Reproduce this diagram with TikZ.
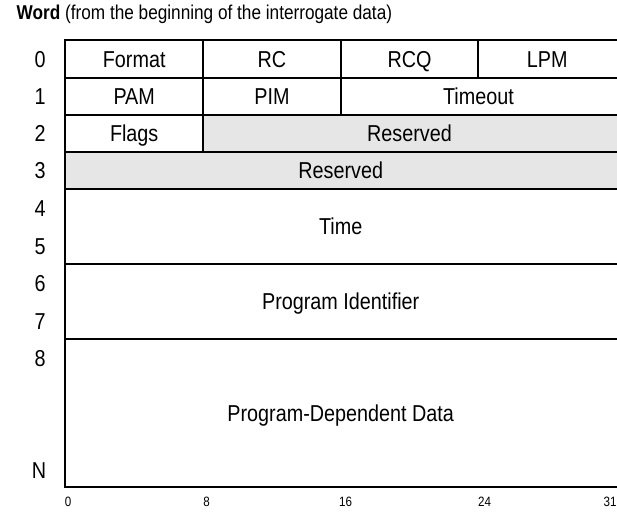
\documentclass[tikz,border=0pt]{standalone}
\usepackage{fontspec}
\setmainfont{Liberation Sans}[FakeStretch=0.86]
\definecolor{resgray}{HTML}{E6E6E6}
\begin{document}
\begin{tikzpicture}[x=1pt,y=-1pt,
  cell/.style={font=\fontsize{23}{27}\selectfont, inner sep=0pt, text height=16.5pt, text depth=0pt},
  rowlab/.style={font=\fontsize{23}{27}\selectfont, inner sep=0pt, text height=16.5pt, text depth=0pt},
  bitlab/.style={font=\fontsize{13.5}{16}\selectfont, inner sep=0pt, text height=9.7pt, text depth=0pt},
  titletext/.style={font=\fontsize{20}{24}\selectfont, inner sep=0pt, anchor=west, text height=14.3pt, text depth=0pt},
  grid/.style={line width=2pt, line cap=rect}]
\useasboundingbox (0,0) rectangle (617,512);
% columns and rows
\def\XA{65.3}\def\XB{203}\def\XC{340.7}\def\XD{478.3}\def\XR{622}
\def\YA{40.3}\def\YB{77.5}\def\YC{114.5}\def\YD{151.5}\def\YE{188.5}\def\YF{264}\def\YG{339}\def\YH{487}
% shaded reserved areas
\fill[resgray] (\XB,\YC) rectangle (\XR,\YD);
\fill[resgray] (\XA,\YD) rectangle (\XR,\YE);
% grid
\draw[grid] (\XR,\YA) -- (\XA,\YA) -- (\XA,\YH) -- (\XR,\YH);
\foreach \yy in {\YB,\YC,\YD,\YE,\YF,\YG} \draw[grid] (\XA,\yy) -- (\XR,\yy);
\draw[grid] (\XB,\YA) -- (\XB,\YD);
\draw[grid] (\XC,\YA) -- (\XC,\YC);
\draw[grid] (\XD,\YA) -- (\XD,\YB);
% title
\node[titletext] (title) at (16.5,12.5) {\textbf{Word} (from the beginning of the interrogate data)};
% cells
\node[cell] (format) at (134.2,59.5) {Format};
\node[cell] (rc) at (271.9,59.5) {RC};
\node[cell] (rcq) at (409.5,59.5) {RCQ};
\node[cell] (lpm) at (547.2,59.5) {LPM};
\node[cell] (pam) at (134.2,96.5) {PAM};
\node[cell] (pim) at (271.9,96.5) {PIM};
\node[cell] (timeout) at (478.4,96.5) {Timeout};
\node[cell] (flags) at (134.2,133.5) {Flags};
\node[cell] (reserveda) at (409.5,133.5) {Reserved};
\node[cell] (reservedb) at (340.7,170.5) {Reserved};
\node[cell] (time) at (340.7,226.5) {Time};
\node[cell] (progid) at (340.7,301.5) {Program Identifier};
\node[cell] (progdata) at (340.7,413.5) {Program-Dependent Data};
% word labels
\node[rowlab] (w0) at (40,59.5) {0};
\node[rowlab] (w1) at (40,96.5) {1};
\node[rowlab] (w2) at (40,133.5) {2};
\node[rowlab] (w3) at (40,170.5) {3};
\node[rowlab] (w4) at (40,208) {4};
\node[rowlab] (w5) at (40,246) {5};
\node[rowlab] (w6) at (40,283.5) {6};
\node[rowlab] (w7) at (40,321) {7};
\node[rowlab] (w8) at (40,358) {8};
\node[rowlab] (wn) at (39,470.5) {N};
% bit labels
\node[bitlab] (b0) at (68,502) {0};
\node[bitlab] (b8) at (206.5,502) {8};
\node[bitlab] (b16) at (345.5,502) {16};
\node[bitlab] (b24) at (484.5,502) {24};
\node[bitlab] (b31) at (610,502) {31};
\end{tikzpicture}
\end{document}
